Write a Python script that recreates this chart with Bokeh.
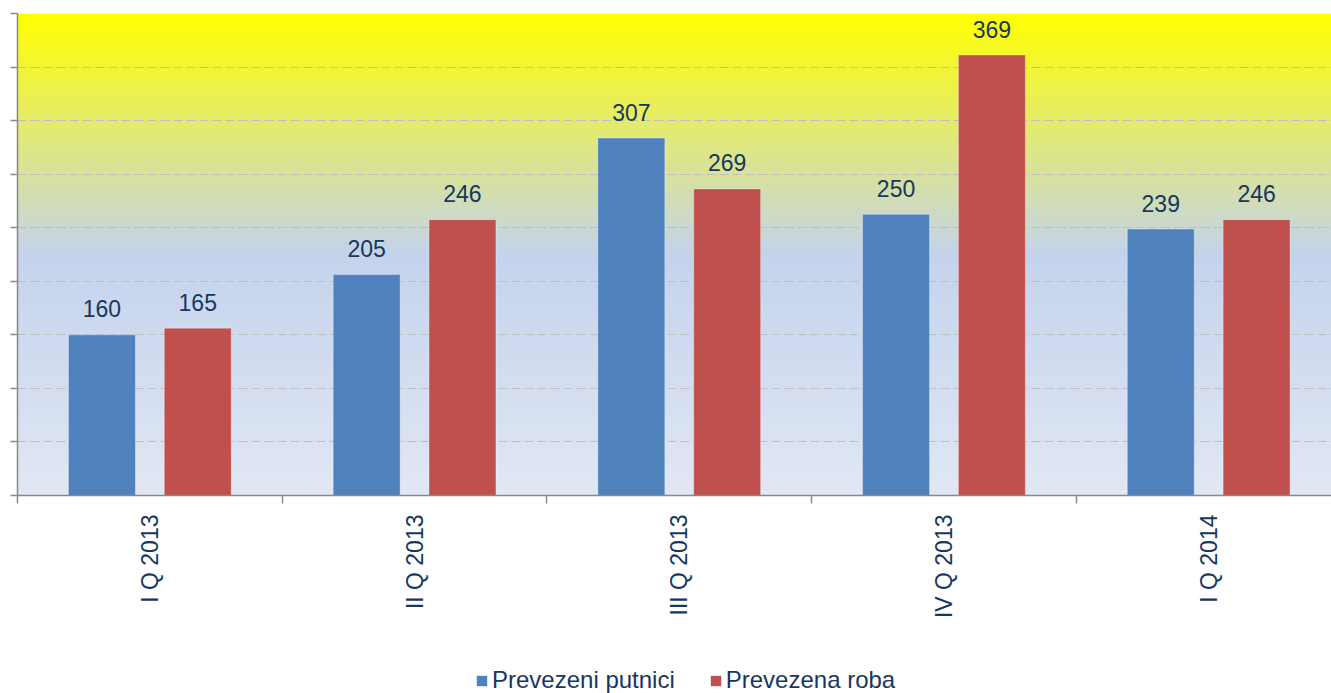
import numpy as np
from bokeh.plotting import figure
from bokeh.layouts import column
from bokeh.models import (Range1d, FixedTicker, Legend, LegendItem, ColumnDataSource)
from bokeh.core.properties import value
from bokeh.embed import file_html
from bokeh.resources import INLINE

# ---- data ----
quarters = ["I Q 2013", "II Q 2013", "III Q 2013", "IV Q 2013", "I Q 2014"]
putnici = [160, 205, 307, 250, 239]
roba = [165, 246, 269, 369, 246]
series_names = ["Prevezeni putnici", "Prevezena roba"]
y_ticks = [40, 80, 120, 160, 200, 240, 280, 320, 360, 400]

FONT = "Liberation Sans"
TXT = "#17375E"
BLUE = "#4F81BD"
RED = "#C0504D"
AXIS = "#898989"

n = len(quarters)
x_end = 4.964
y_start, y_end = 40, 400

p = figure(width=1331, height=657, output_backend="svg", toolbar_location=None,
           x_range=Range1d(0, x_end), y_range=Range1d(y_start, y_end),
           min_border_left=17, min_border_right=0, min_border_top=13, min_border_bottom=162)
p.outline_line_color = None
p.background_fill_color = "white"
p.border_fill_color = "white"

# ---- gradient background ----
stops = [(0.0, (255, 255, 0)), (0.5, (196, 211, 236)), (1.0, (225, 231, 244))]
N = 300
img = np.zeros((N, 1), dtype=np.uint32)
view = img.view(dtype=np.uint8).reshape((N, 1, 4))
for r in range(N):
    f = 1.0 - r / (N - 1)  # fraction from top (row 0 = bottom)
    for (f0, c0), (f1, c1) in zip(stops[:-1], stops[1:]):
        if f0 <= f <= f1:
            t = (f - f0) / (f1 - f0)
            col = [int(round(a + (b - a) * t)) for a, b in zip(c0, c1)]
            break
    view[r, 0, 0:3] = col
    view[r, 0, 3] = 255
p.image_rgba(image=[img], x=0, y=y_start, dw=x_end, dh=y_end - y_start, level="image")

# ---- bars ----
centers = [i + 0.5 for i in range(n)]
off = 0.181
bw = 0.253
src_a = ColumnDataSource(dict(x=[c - off for c in centers], top=putnici,
                              lab=[str(v) for v in putnici]))
src_b = ColumnDataSource(dict(x=[c + off for c in centers], top=roba,
                              lab=[str(v) for v in roba]))
p.vbar(x="x", top="top", bottom=y_start, width=bw, source=src_a,
       fill_color=BLUE, line_color="white", line_alpha=0.35, line_width=1)
p.vbar(x="x", top="top", bottom=y_start, width=bw, source=src_b,
       fill_color=RED, line_color="white", line_alpha=0.35, line_width=1)

for s in (src_a, src_b):
    p.text(x="x", y="top", text="lab", source=s, text_align="center",
           text_baseline="alphabetic", y_offset=-26, text_color=TXT,
           text_font=value(FONT), text_font_size="23px")

# ---- grid ----
p.xgrid.visible = False
p.ygrid.ticker = FixedTicker(ticks=y_ticks)
p.ygrid.grid_line_color = "#BFBFBF"
p.ygrid.grid_line_dash = "9 4"
p.ygrid.grid_line_width = 1

# ---- axes ----
ya = p.yaxis[0]
ya.ticker = FixedTicker(ticks=y_ticks)
ya.major_label_overrides = {t: "" for t in y_ticks}
ya.major_label_standoff = 0
ya.major_tick_out = 7
ya.major_tick_in = 0
ya.minor_tick_out = 0
ya.minor_tick_in = 0
ya.axis_line_color = AXIS
ya.axis_line_width = 1.5
ya.major_tick_line_color = AXIS
ya.major_tick_line_width = 1.5

xa = p.xaxis[0]
xa.ticker = FixedTicker(ticks=centers, minor_ticks=list(range(n + 1)))
xa.major_label_overrides = {c: q for c, q in zip(centers, quarters)}
xa.major_label_orientation = np.pi / 2
xa.major_label_text_font = FONT
xa.major_label_text_font_size = "23px"
xa.major_label_text_color = TXT
xa.major_label_standoff = 11
xa.major_tick_out = 0
xa.major_tick_in = 0
xa.minor_tick_out = 8
xa.minor_tick_in = 0
xa.minor_tick_line_color = AXIS
xa.minor_tick_line_width = 1.5
xa.axis_line_color = AXIS
xa.axis_line_width = 1.5

# ---- legend (separate strip below) ----
lg = figure(width=1331, height=36, output_backend="svg", toolbar_location=None,
            x_axis_type=None, y_axis_type=None, x_range=Range1d(0, 1), y_range=Range1d(0, 1),
            min_border_left=0, min_border_right=0, min_border_top=0, min_border_bottom=0)
lg.outline_line_color = None
lg.grid.visible = False
# legend-key proxies, placed outside the visible range
proxy = ColumnDataSource(dict(x=[-5], top=[-5]))
la = lg.vbar(x="x", top="top", bottom=-6, width=0.1, source=proxy, fill_color=BLUE, line_color=None)
lb = lg.vbar(x="x", top="top", bottom=-6, width=0.1, source=proxy, fill_color=RED, line_color=None)
legend = Legend(items=[LegendItem(label=series_names[0], renderers=[la]),
                       LegendItem(label=series_names[1], renderers=[lb])],
                orientation="horizontal", location=(458, -1),
                border_line_color=None, background_fill_alpha=0,
                label_text_font=FONT, label_text_font_size="24px",
                label_text_color=TXT, glyph_width=13, glyph_height=13,
                label_standoff=4, spacing=34, padding=0, margin=0,
                label_height=24)
lg.add_layout(legend, "center")

open("out.html", "w").write(file_html(column(p, lg, spacing=0), INLINE))
